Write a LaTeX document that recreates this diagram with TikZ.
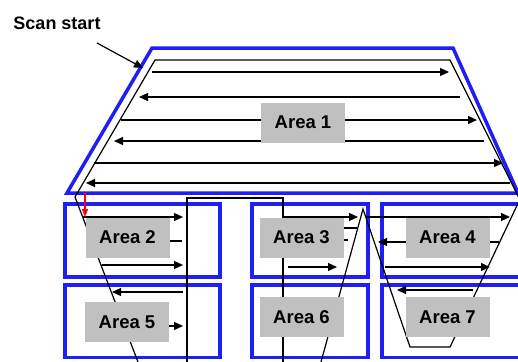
\documentclass[tikz,border=0pt]{standalone}
\usepackage{fontspec}
\setmainfont{Liberation Sans}
\usetikzlibrary{arrows.meta}
\definecolor{frameblue}{RGB}{30,30,245}
\definecolor{boxgray}{RGB}{192,192,192}
\begin{document}
\begin{tikzpicture}[x=1pt,y=-1pt,
  frame/.style={draw=frameblue,line width=3.5pt},
  scanline/.style={draw=black,line width=1.2pt},
  arr/.style={scanline,-{Triangle[length=9pt,width=8pt]}},
  area/.style={fill=boxgray,minimum width=84pt,minimum height=40pt,inner sep=0pt,
    font=\bfseries\fontsize{18.5}{18.5}\selectfont},
  ]
\useasboundingbox (0,0) rectangle (518,361);
\clip (0,0) rectangle (518,361);
% blue frames
\draw[frame] (67,193) -- (152,48) -- (453,48) -- (518,193) -- cycle;
\draw[frame] (65,204) rectangle (220,277);
\draw[frame] (65,285) rectangle (220,357.5);
\draw[frame] (252,204) rectangle (368,277);
\draw[frame] (252,285) rectangle (368,357.5);
\draw[frame] (382,204) rectangle (540,277);
\draw[frame] (382,285) rectangle (540,357.5);
% scan boundaries
\draw[scanline] (138,362) -- (75,197) -- (155,60) -- (450,60) -- (522,204);
\draw[scanline] (187,362) -- (187,198) -- (283,198) -- (283,362);
\draw[scanline] (321,362) -- (363,209) -- (410,347) -- (450,347) -- (521,197);
% area 1 lines
\draw[arr] (152,72) -- (449,72);
\draw[arr] (460,97) -- (139,97);
\draw[arr] (121,120) -- (477,120);
\draw[arr] (484,141) -- (114,141);
\draw[arr] (94,163) -- (503,163);
\draw[arr] (510,183) -- (86,183);
% area 2/5 lines
\draw[arr] (83,217) -- (183,217);
\draw[scanline] (91,241) -- (182,241);
\draw[arr] (102,265) -- (183,265);
\draw[arr] (183,292) -- (112,292);
\draw[arr] (125,326) -- (183,326);
% area 3/6 lines
\draw[arr] (283,217) -- (358,217);
\draw[scanline] (283,228) -- (357,228);
\draw[scanline] (283,240) -- (348,240);
\draw[arr] (288,267) -- (337,267);
% area 4/7 lines
\draw[arr] (366,217) -- (510,217);
\draw[arr] (499,242) -- (378,242);
\draw[arr] (385,267) -- (490,267);
\draw[arr] (473,290) -- (397,290);
% gray labels
\node[area] (a1) at (303,122.5) {Area 1};
\node[area] (a2) at (127.5,237.5) {Area 2};
\node[area] (a5) at (127,322) {Area 5};
\node[area] (a3) at (301.5,237.5) {Area 3};
\node[area] (a6) at (301.5,317) {Area 6};
\node[area] (a4) at (447.5,237.5) {Area 4};
\node[area] (a7) at (447.5,317) {Area 7};
% red start arrow
\coordinate (redS) at (85,193);
\coordinate (redE) at (85,217);
\draw[draw=red,line width=1.3pt,-{Triangle[length=8pt,width=6pt]}] (redS) -- (redE);
% scan start label
\node[font=\bfseries\fontsize{18}{18}\selectfont] (st) at (57,23) {Scan start};
\coordinate (stTail) at (97,43);
\coordinate (stTip) at (143,68);
\draw[arr] (stTail) -- (stTip);
\end{tikzpicture}
\end{document}
